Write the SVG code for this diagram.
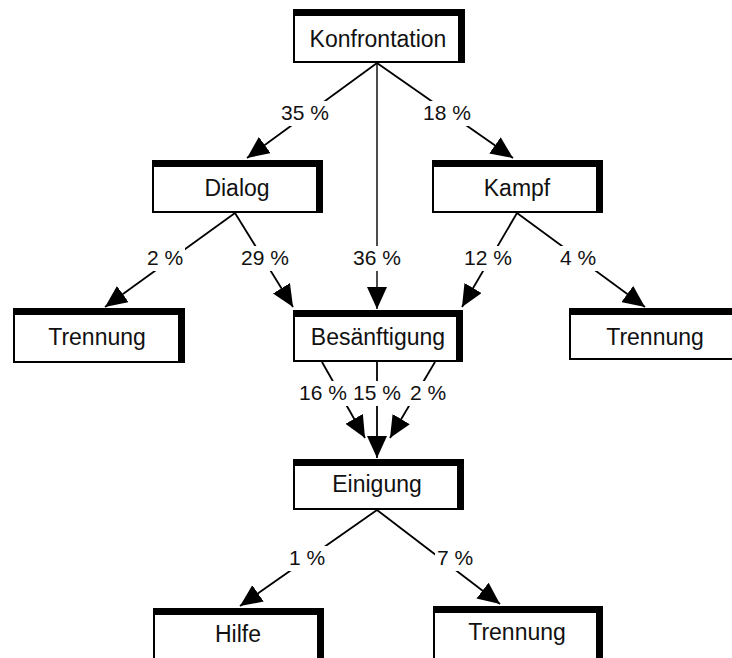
<svg xmlns="http://www.w3.org/2000/svg" width="732" height="658" viewBox="0 0 732 658">
<defs>
<marker id="ah" markerUnits="userSpaceOnUse" markerWidth="24" markerHeight="20" viewBox="0 0 24 20" refX="22" refY="10" orient="auto">
<path d="M0,0 L22,10 L0,20 Z" fill="#000"/>
</marker>
<style>
.box{fill:#fff;stroke:#000;stroke-width:2}
.sh{fill:none;stroke:#000;stroke-width:7;stroke-linejoin:miter}
.t{font-family:"Liberation Sans",Arial,sans-serif;font-size:23px;text-anchor:middle;fill:#111}
.l{font-family:"Liberation Sans",Arial,sans-serif;font-size:21px;text-anchor:middle;fill:#111}
.bg{fill:#fff}
.c{stroke:#000;stroke-width:1.8;fill:none;marker-end:url(#ah)}
</style>
</defs>
<rect width="732" height="658" fill="#fff"/>
<g id="connectors">
<line class="c" x1="377" y1="63" x2="247" y2="158"/>
<line class="c" x1="377" y1="63" x2="513" y2="158"/>
<line class="c" x1="377" y1="63" x2="377" y2="309" style="stroke-width:1.4"/>
<line class="c" x1="235" y1="213" x2="105" y2="307"/>
<line class="c" x1="235" y1="213" x2="293" y2="307"/>
<line class="c" x1="517" y1="213" x2="462" y2="307"/>
<line class="c" x1="517" y1="213" x2="645" y2="307"/>
<line class="c" x1="322" y1="362" x2="365" y2="438"/>
<line class="c" x1="377" y1="362" x2="377" y2="458"/>
<line class="c" x1="435" y1="362" x2="390" y2="438"/>
<line class="c" x1="377" y1="510" x2="240" y2="606"/>
<line class="c" x1="377" y1="510" x2="500" y2="604"/>
<rect class="bg" x="279" y="101" width="52" height="25"/>
<rect class="bg" x="421" y="101" width="52" height="25"/>
<rect class="bg" x="145" y="246" width="40" height="25"/>
<rect class="bg" x="239" y="246" width="52" height="25"/>
<rect class="bg" x="351" y="246" width="52" height="25"/>
<rect class="bg" x="462" y="246" width="52" height="25"/>
<rect class="bg" x="558" y="246" width="40" height="25"/>
<rect class="bg" x="297" y="381" width="52" height="25"/>
<rect class="bg" x="351" y="381" width="52" height="25"/>
<rect class="bg" x="408" y="381" width="40" height="25"/>
<rect class="bg" x="287" y="546" width="40" height="25"/>
<rect class="bg" x="435" y="546" width="40" height="25"/>
<text class="l" x="305" y="120">35 %</text>
<text class="l" x="447" y="120">18 %</text>
<text class="l" x="165" y="265">2 %</text>
<text class="l" x="265" y="265">29 %</text>
<text class="l" x="377" y="265">36 %</text>
<text class="l" x="488" y="265">12 %</text>
<text class="l" x="578" y="265">4 %</text>
<text class="l" x="323" y="400">16 %</text>
<text class="l" x="377" y="400">15 %</text>
<text class="l" x="428" y="400">2 %</text>
<text class="l" x="307" y="565">1 %</text>
<text class="l" x="455" y="565">7 %</text>
</g>
<g id="konfrontation">
<rect class="box" x="294" y="10" width="170" height="52"/>
<path class="sh" d="M293,12.5 H461.5 V63"/>
<text class="t" x="378" y="47">Konfrontation</text>
</g>
<g id="dialog">
<rect class="box" x="153" y="161" width="169" height="51"/>
<path class="sh" d="M152,163.5 H319.5 V213"/>
<text class="t" x="237" y="196">Dialog</text>
</g>
<g id="kampf">
<rect class="box" x="433" y="161" width="169" height="51"/>
<path class="sh" d="M432,163.5 H599.5 V213"/>
<text class="t" x="517" y="196">Kampf</text>
</g>
<g id="trennung1">
<rect class="box" x="14" y="309" width="170" height="53"/>
<path class="sh" d="M13,311.5 H181.5 V363"/>
<text class="t" x="97" y="345">Trennung</text>
</g>
<g id="besaenftigung">
<rect class="box" x="294" y="311" width="168" height="50"/>
<path class="sh" d="M293,313.5 H459.5 V362"/>
<text class="t" x="378" y="345">Besänftigung</text>
</g>
<g id="trennung2">
<rect class="box" x="570" y="309" width="170" height="50"/>
<path class="sh" d="M569,311.5 H737.5 V360"/>
<text class="t" x="655" y="345">Trennung</text>
</g>
<g id="einigung">
<rect class="box" x="294" y="460" width="169" height="49"/>
<path class="sh" d="M293,462.5 H460.5 V510"/>
<text class="t" x="377" y="492">Einigung</text>
</g>
<g id="hilfe">
<rect class="box" x="154" y="609" width="169" height="70"/>
<path class="sh" d="M153,611.5 H320.5 V680"/>
<text class="t" x="238" y="642">Hilfe</text>
</g>
<g id="trennung3">
<rect class="box" x="434" y="607" width="168" height="72"/>
<path class="sh" d="M433,609.5 H599.5 V680"/>
<text class="t" x="517" y="640">Trennung</text>
</g>
</svg>
